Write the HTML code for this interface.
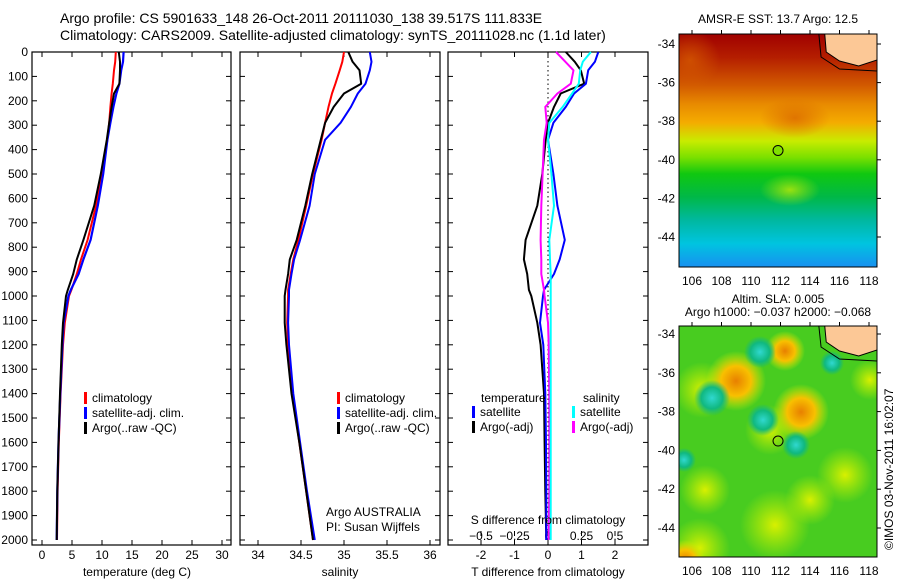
<!DOCTYPE html>
<html><head><meta charset="utf-8"><style>
html,body{margin:0;padding:0;background:#fff}
svg{display:block;font-family:"Liberation Sans",sans-serif}
</style></head><body>
<svg id="c" width="900" height="580" xmlns="http://www.w3.org/2000/svg">
<defs>
<linearGradient id="sstg" x1="0" y1="0" x2="0" y2="1">
<stop offset="0" stop-color="#a00000"/><stop offset="0.1" stop-color="#b41e00"/>
<stop offset="0.22" stop-color="#d25a00"/><stop offset="0.3" stop-color="#e88a00"/>
<stop offset="0.38" stop-color="#f4ac00"/><stop offset="0.46" stop-color="#c8ec00"/>
<stop offset="0.53" stop-color="#7ae000"/><stop offset="0.6" stop-color="#10c810"/>
<stop offset="0.7" stop-color="#00b848"/><stop offset="0.8" stop-color="#00b8a0"/>
<stop offset="0.9" stop-color="#00c4e0"/><stop offset="1" stop-color="#1890f0"/>
</linearGradient>
<radialGradient id="bo"><stop offset="0" stop-color="#e88000"/><stop offset="0.5" stop-color="#f8c000"/><stop offset="1" stop-color="#d8f000" stop-opacity="0"/></radialGradient>
<radialGradient id="bc"><stop offset="0" stop-color="#30d8d0"/><stop offset="0.6" stop-color="#10b880"/><stop offset="1" stop-color="#10b880" stop-opacity="0"/></radialGradient>
<radialGradient id="by"><stop offset="0" stop-color="#d8f000"/><stop offset="1" stop-color="#c0f000" stop-opacity="0"/></radialGradient>
<radialGradient id="bdr"><stop offset="0" stop-color="#d86000"/><stop offset="1" stop-color="#d86000" stop-opacity="0"/></radialGradient>
</defs>
<g id="root"></g>
</svg>
<script>
// ---- data ----
const depths = [0,40,75,130,170,225,290,360,500,630,770,850,910,975,1000,1110,1200,1400,1600,1800,2000];
const tempClim  = [12.3,12.2,12.0,11.8,11.6,11.4,11.2,10.9,10.0,9.0,7.6,6.5,5.8,4.9,4.5,3.8,3.5,3.1,2.8,2.6,2.5];
const tempSat   = [13.6,13.5,13.2,12.9,12.4,11.9,11.4,10.9,10.2,9.3,8.1,6.9,6.1,4.8,4.4,3.6,3.4,3.05,2.75,2.55,2.45];
const tempArgo  = [12.8,13.0,13.0,12.9,12.0,11.6,11.2,10.8,9.8,8.7,6.9,5.8,5.2,4.3,4.0,3.5,3.3,3.0,2.75,2.55,2.45];
const salClim   = [35.0,34.98,34.95,34.9,34.86,34.82,34.78,34.74,34.64,34.56,34.47,34.41,34.38,34.35,34.35,34.34,34.35,34.4,34.48,34.56,34.64];
const salSat    = [35.3,35.32,35.3,35.25,35.16,35.08,34.96,34.78,34.66,34.6,34.49,34.42,34.39,34.36,34.36,34.35,34.36,34.41,34.49,34.57,34.66];
const salArgo   = [35.05,35.1,35.18,35.2,35.0,34.88,34.78,34.73,34.63,34.55,34.45,34.37,34.35,34.32,34.31,34.31,34.33,34.39,34.48,34.56,34.64];
const dTsat  = [1.5,1.4,1.2,1.13,0.78,0.53,0.16,0.0,0.16,0.28,0.5,0.35,0.18,-0.12,-0.15,-0.24,-0.14,-0.08,-0.06,-0.05,-0.05];
const dTargo = [0.53,0.8,0.98,1.08,0.38,0.18,0.0,-0.07,-0.17,-0.32,-0.67,-0.72,-0.62,-0.57,-0.5,-0.32,-0.22,-0.12,-0.1,-0.08,-0.05];
const dSsat  = [0.32,0.26,0.24,0.23,0.18,0.11,0.01,0.0,0.025,0.045,0.01,0.015,0.02,0.02,0.02,0.02,0.02,0.02,0.02,0.02,0.02];
const dSargo = [0.06,0.13,0.19,0.17,0.07,-0.02,-0.01,-0.03,-0.04,-0.05,-0.055,-0.05,-0.05,-0.03,-0.025,0.0,0.005,0.01,0.01,0.01,0.005];
const depthTicks = [0,100,200,300,400,500,600,700,800,900,1000,1100,1200,1300,1400,1500,1600,1700,1800,1900,2000];
const tempTicks = [0,5,10,15,20,25,30];
const salTicks = [34,34.5,35,35.5,36];
const tdTicks = [-2,-1,0,1,2];
const sdTicks = [-0.5,-0.25,0,0.25,0.5];
const lonTicks = [106,108,110,112,114,116,118];
const latTicks = [-34,-36,-38,-40,-42,-44];
const argoLon = 111.833, argoLat = -39.517;

const NS="http://www.w3.org/2000/svg";
const root=document.getElementById('root');
function el(tag,attrs,parent){const e=document.createElementNS(NS,tag);for(const k in attrs)e.setAttribute(k,attrs[k]);(parent||root).appendChild(e);return e;}
function txt(x,y,s,anchor,size,parent){const t=el('text',{x:x,y:y,'font-size':size||12,'text-anchor':anchor||'start',fill:'#000'},parent);t.textContent=s;return t;}

const yTop=52, yPerM=0.244;
const yD=d=>yTop+d*yPerM;
const P1={x0:32,x1:231}, P2={x0:240,x1:440}, P3={x0:448,x1:648}, yBot=545;
const xT=v=>42+v*6;
const xS=v=>258+(v-34)*86;
const xTd=v=>548+v*33.5;
const xSd=v=>548+v*134;

function frame(P,name){
  const r=el('rect',{x:P.x0,y:yTop,width:P.x1-P.x0,height:yBot-yTop,fill:'none',stroke:'#000','stroke-width':1.2});
  
  
  depthTicks.forEach(d=>{el('line',{x1:P.x0,x2:P.x0+5,y1:yD(d),y2:yD(d),stroke:'#000'});el('line',{x1:P.x1-5,x2:P.x1,y1:yD(d),y2:yD(d),stroke:'#000'});});
}
frame(P1,'temperature-panel');frame(P2,'salinity-panel');frame(P3,'difference-panel');
depthTicks.forEach(d=>{const t=txt(28,yD(d)+4,String(d),'end',12);

});
function xticks(arr,fx,y,labY,top){arr.forEach(v=>{const x=fx(v);el('line',{x1:x,x2:x,y1:yBot-5,y2:yBot,stroke:'#000'});if(top)el('line',{x1:x,x2:x,y1:yTop,y2:yTop+5,stroke:'#000'});
const t=txt(x,labY,String(v),'middle',12);

});}
xticks(tempTicks,xT,yBot,559,true);
xticks(salTicks,xS,yBot,559,true);
xticks(tdTicks,xTd,yBot,559,true);
sdTicks.forEach(v=>{const x=xSd(v);el('line',{x1:x,x2:x,y1:yBot-14,y2:yBot-9,stroke:'#000'});
const t=txt(x,540,(v<0?'\u2212':'')+String(Math.abs(v)),'middle',12);

});

function line(xs,fx,color,w,name){
  const pts=xs.map((v,i)=>fx(v).toFixed(1)+','+yD(depths[i]).toFixed(1)).join(' ');
  const p=el('polyline',{points:pts,fill:'none',stroke:color,'stroke-width':w,'stroke-linejoin':'round'});
  
  
}
line(tempClim,xT,'#f00',2,'temp-climatology-line');
line(tempSat,xT,'#00f',2.2,'temp-satellite-line');
line(tempArgo,xT,'#000',2,'temp-argo-line');
line(salClim,xS,'#f00',2,'sal-climatology-line');
line(salSat,xS,'#00f',2,'sal-satellite-line');
line(salArgo,xS,'#000',2,'sal-argo-line');
el('line',{x1:548,x2:548,y1:yTop,y2:yBot,stroke:'#000','stroke-dasharray':'1.5,3'});
line(dTargo,xTd,'#000',2,'tdiff-argo-line');
line(dTsat,xTd,'#00f',2,'tdiff-satellite-line');
line(dSargo,xSd,'#f0f',2,'sdiff-argo-line');
line(dSsat,xSd,'#0ff',2,'sdiff-satellite-line');

function legend(x,y,items,name){items.forEach((it,i)=>{el('rect',{x:x,y:y+i*15-10,width:3,height:12,fill:it[0]});txt(x+8,y+i*15,it[1],'start',12);});
const g=el('rect',{x:x,y:y-12,width:1,height:1,fill:'none'});}
legend(84,402,[['#f00','climatology'],['#00f','satellite-adj. clim.'],['#000','Argo(..raw -QC)']],'temp-legend');
legend(337,402,[['#f00','climatology'],['#00f','satellite-adj. clim.'],['#000','Argo(..raw -QC)']],'sal-legend');
txt(481,402,'temperature','start',12);txt(583,402,'salinity','start',12);
legend(472,416,[['#00f','satellite'],['#000','Argo(-adj)']],'tdiff-legend');
legend(572,416,[['#0ff','satellite'],['#f0f','Argo(-adj)']],'sdiff-legend');
txt(326,516,'Argo AUSTRALIA','start',12);txt(326,531,'PI: Susan Wijffels','start',12);
txt(548,524,'S difference from climatology','middle',12);
txt(137,576,'temperature (deg C)','middle',12);
txt(340,576,'salinity','middle',12);
txt(548,576,'T difference from climatology','middle',12);
txt(60,23,'Argo profile: CS 5901633_148 26-Oct-2011 20111030_138 39.517S 111.833E','start',14);
txt(60,40,'Climatology: CARS2009. Satellite-adjusted climatology: synTS_20111028.nc (1.1d later)','start',14);

function map(y0,y1,lat34,lat44,kind){
  const x0=679,x1=877;
  const lx=v=>692+(v-106)*14.75, ly=v=>lat34+(-34-v)*(lat44-lat34)/10;
  const cp='cp'+kind;const c=el('clipPath',{id:cp});el('rect',{x:x0,y:y0,width:x1-x0,height:y1-y0},c);
  const g=el('g',{'clip-path':'url(#'+cp+')'});
  
  
  if(kind==='sst'){el('rect',{x:x0,y:y0,width:x1-x0,height:y1-y0,fill:'url(#sstg)'},g);
    el('ellipse',{cx:690,cy:60,rx:30,ry:30,fill:'url(#bdr)',opacity:0.7},g);
    el('ellipse',{cx:795,cy:118,rx:35,ry:20,fill:'url(#bdr)',opacity:0.7},g);
    el('ellipse',{cx:790,cy:190,rx:30,ry:16,fill:'url(#by)',opacity:0.7},g);
  } else {
    el('rect',{x:x0,y:y0,width:x1-x0,height:y1-y0,fill:'#48cc20'},g);
    [[702,390,28],[775,525,35],[700,548,30],[770,430,25],[845,475,28],[705,490,25],[810,500,25],[870,380,20]].forEach(b=>el('circle',{cx:b[0],cy:b[1],r:b[2],fill:'url(#by)'},g));
    [[736,381,30],[801,412,28],[785,351,20],[685,560,20]].forEach(b=>el('circle',{cx:b[0],cy:b[1],r:b[2],fill:'url(#bo)'},g));
    [[712,398,18],[760,352,16],[763,420,16],[796,445,14],[832,363,12],[684,460,12]].forEach(b=>el('circle',{cx:b[0],cy:b[1],r:b[2],fill:'url(#bc)'},g));
  }
  const ly0=lat34;
  el('path',{d:`M${lx(115)} ${y0} L${lx(115.1)} ${ly0+8} L${lx(116)} ${ly0+17} L${lx(117.3)} ${ly0+22} L${x1} ${ly0+16} L${x1} ${y0} Z`,fill:'#fcc896',stroke:'#000','stroke-width':1},g);
  el('path',{d:`M${lx(114.6)} ${y0} L${lx(114.75)} ${ly0+13} L${lx(116)} ${ly0+25} L${x1} ${ly0+27}`,fill:'none',stroke:'#000','stroke-width':1},g);
  const dot=el('circle',{cx:lx(argoLon),cy:ly(argoLat),r:5,fill:kind==='sst'?'#80e000':'none',stroke:'#000','stroke-width':1});
  
  
  el('rect',{x:x0,y:y0,width:x1-x0,height:y1-y0,fill:'none',stroke:'#000','stroke-width':1});
  lonTicks.forEach(v=>{el('line',{x1:lx(v),x2:lx(v),y1:y0-4,y2:y0,stroke:'#000'});txt(lx(v),y1+18,String(v),'middle',12);});
  latTicks.forEach(v=>{el('line',{x1:x1,x2:x1+4,y1:ly(v),y2:ly(v),stroke:'#000'});txt(675,ly(v)+4,String(v),'end',12);});
}
map(34,267,44,237,'sst');
map(326,557,334,528,'sla');
txt(778,23,'AMSR-E SST: 13.7 Argo: 12.5','middle',12);
txt(778,303,'Altim. SLA: 0.005','middle',12);
txt(778,316,'Argo h1000: \u22120.037 h2000: \u22120.068','middle',12);
const cr=txt(0,0,'\u00a9IMOS 03-Nov-2011 16:02:07','start',12);
cr.setAttribute('transform','translate(893,550) rotate(-90)');


</script>
</body></html>
